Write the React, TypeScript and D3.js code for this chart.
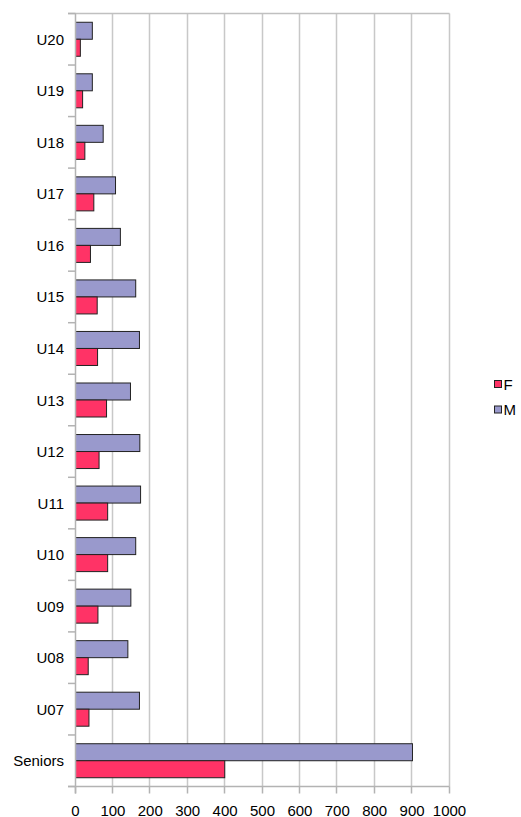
import * as d3 from 'd3'

const WIDTH = 521
const HEIGHT = 817
const PLOT = { left: 75.5, right: 449.5, top: 13.5, bottom: 786.5 }

const CATEGORIES = ['U20', 'U19', 'U18', 'U17', 'U16', 'U15', 'U14', 'U13', 'U12', 'U11', 'U10', 'U09', 'U08', 'U07', 'Seniors']
const M_VALUES = [45, 45, 74, 107, 120, 161, 171, 147, 172, 174, 161, 148, 140, 171, 901]
const F_VALUES = [13, 19, 25, 49, 40, 58, 59, 83, 63, 86, 86, 60, 34, 36, 399]
const SERIES = ['M', 'F']
const LEGEND = ['F', 'M']
const X_TICKS = [0, 100, 200, 300, 400, 500, 600, 700, 800, 900, 1000]

const COLORS: Record<string, string> = { M: '#9999cc', F: '#ff3366' }
const FONT = '"Liberation Sans", Arial, sans-serif'

export default function App() {
  const x = d3.scaleLinear().domain([0, 1000]).range([PLOT.left, PLOT.right])
  const y = d3.scaleBand<string>()
    .domain(CATEGORIES)
    .range([PLOT.top, PLOT.bottom])
    .paddingInner(0.34)
    .paddingOuter(0.17)
  const inner = d3.scaleBand<string>().domain(SERIES).range([0, y.bandwidth()])
  const step = y.step()

  const values: Record<string, number[]> = { M: M_VALUES, F: F_VALUES }

  // category boundaries for the left ticks
  const boundaries = d3.range(CATEGORIES.length + 1).map(i => PLOT.top + i * step)

  return (
    <svg
      width={WIDTH}
      height={HEIGHT}
      style={{ position: 'absolute', left: 0, top: 0, fontFamily: FONT, background: '#fff' }}
    >
      {/* vertical grid lines */}
      {X_TICKS.slice(1).map(t => (
        <line
          key={`grid-${t}`}
          x1={Math.round(x(t)) - 0.5}
          x2={Math.round(x(t)) - 0.5}
          y1={PLOT.top}
          y2={PLOT.bottom}
          stroke="#c8c8c8"
          strokeWidth={1.5}
        />
      ))}

      {/* top border */}
      <line x1={68} x2={PLOT.right} y1={PLOT.top} y2={PLOT.top} stroke="#c0c0c0" strokeWidth={1.5} />

      {/* left ticks */}
      {boundaries.map((b, i) => (
        <line key={`ytick-${i}`} x1={68} x2={PLOT.left} y1={b} y2={b} stroke="#b3b3b3" strokeWidth={1.5} />
      ))}

      {/* bottom ticks */}
      {X_TICKS.map(t => (
        <line
          key={`xtick-${t}`}
          x1={Math.round(x(t)) - 0.5}
          x2={Math.round(x(t)) - 0.5}
          y1={PLOT.bottom}
          y2={PLOT.bottom + 7}
          stroke="#b3b3b3"
          strokeWidth={1.5}
        />
      ))}

      {/* bars */}
      {CATEGORIES.map((c, i) => (
        <g key={c}>
          {SERIES.map(s => (
            <rect
              key={s}
              x={x(0)}
              y={(y(c) ?? 0) + (inner(s) ?? 0)}
              width={x(values[s][i]) - x(0)}
              height={inner.bandwidth()}
              fill={COLORS[s]}
              stroke="#222"
              strokeWidth={1}
            />
          ))}
        </g>
      ))}

      {/* axis lines */}
      <line x1={PLOT.left} x2={PLOT.left} y1={PLOT.top} y2={PLOT.bottom + 7} stroke="#b3b3b3" strokeWidth={1.5} />
      <line x1={68} x2={PLOT.right} y1={PLOT.bottom} y2={PLOT.bottom} stroke="#b3b3b3" strokeWidth={1.5} />

      {/* category labels */}
      {CATEGORIES.map(c => (
        <text
          key={`label-${c}`}
          x={64}
          y={(y(c) ?? 0) + y.bandwidth() / 2}
          textAnchor="end"
          dominantBaseline="central"
          fontSize={15}
          fill="#000"
        >
          {c}
        </text>
      ))}

      {/* value labels */}
      {X_TICKS.map(t => (
        <text key={`xl-${t}`} x={x(t)} y={815.5} textAnchor="middle" fontSize={15} fill="#000">
          {t}
        </text>
      ))}

      {/* legend */}
      {LEGEND.map((s, i) => (
        <g key={`legend-${s}`} transform={`translate(494.5, ${380.5 + i * 25.5})`}>
          <rect width={7} height={7} fill={COLORS[s]} stroke="#222" strokeWidth={1} />
          <text x={9} y={3.5} dominantBaseline="central" fontSize={15} fill="#000">
            {s}
          </text>
        </g>
      ))}
    </svg>
  )
}
